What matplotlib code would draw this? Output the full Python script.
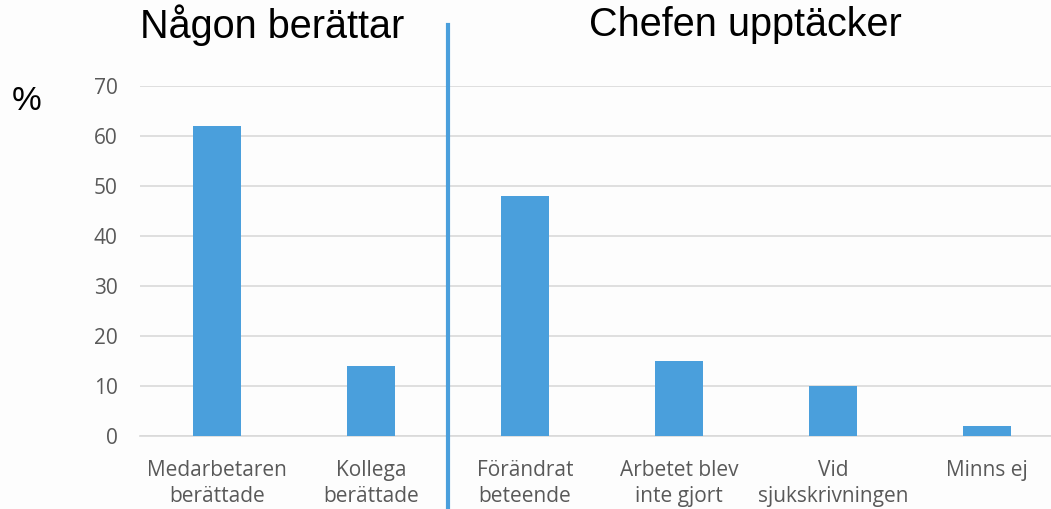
import matplotlib
matplotlib.use('Agg')
import matplotlib.pyplot as plt
import numpy as np

categories = ['Medarbetaren\nberättade', 'Kollega\nberättade', 'Förändrat\nbeteende',
              'Arbetet blev\ninte gjort', 'Vid\nsjukskrivningen', 'Minns ej']
values = [62, 14, 48, 15, 10, 2]
yticks = [0, 10, 20, 30, 40, 50, 60, 70]

BLUE = '#4A9FDC'
GRAY = '#595959'

fig = plt.figure(figsize=(10.51, 5.09), dpi=100, facecolor='#FDFDFD')
ax = fig.add_axes([140/1051, 73/509, 924/1051, 350/509])
ax.set_facecolor('#FDFDFD')

x = np.arange(len(categories))
ax.bar(x, values, width=0.31, color=BLUE, zorder=3)
ax.set_xlim(-0.5, len(categories) - 0.5)
ax.set_ylim(0, 70)
ax.set_yticks(yticks)
ax.grid(axis='y', color='#D9D9D9', linewidth=1.2, zorder=0)
for s in ['top', 'right', 'left']:
    ax.spines[s].set_visible(False)
ax.spines['bottom'].set_color('#D9D9D9')
ax.spines['bottom'].set_linewidth(1.2)
ax.tick_params(length=0)
ax.set_xticks(x)
ax.set_xticklabels(categories, fontsize=15, color=GRAY, family='Open Sans', linespacing=1.35)
ax.tick_params(axis='x', pad=17)
ax.tick_params(axis='y', pad=16)
for lbl in ax.get_yticklabels():
    lbl.set_fontsize(15)
    lbl.set_color(GRAY)
    lbl.set_family('Open Sans')

# divider between the two groups
xd = 140/1051 + (1.5 + 0.5) / 6 * 924/1051
fig.add_artist(plt.Line2D([xd, xd], [0, 1 - 25/509], color=BLUE, linewidth=3))

fig.text(272/1051, 1 - 25/509, 'Någon berättar', fontsize=28.5, ha='center', va='center',
         family='Liberation Sans')
fig.text(745/1051, 1 - 25/509, 'Chefen upptäcker', fontsize=28.5, ha='center', va='center',
         family='Liberation Sans')
fig.text(27/1051, 1 - 102/509, '%', fontsize=24, ha='center', va='center',
         family='Liberation Sans')

fig.savefig('out.png', dpi=100, facecolor=fig.get_facecolor())
